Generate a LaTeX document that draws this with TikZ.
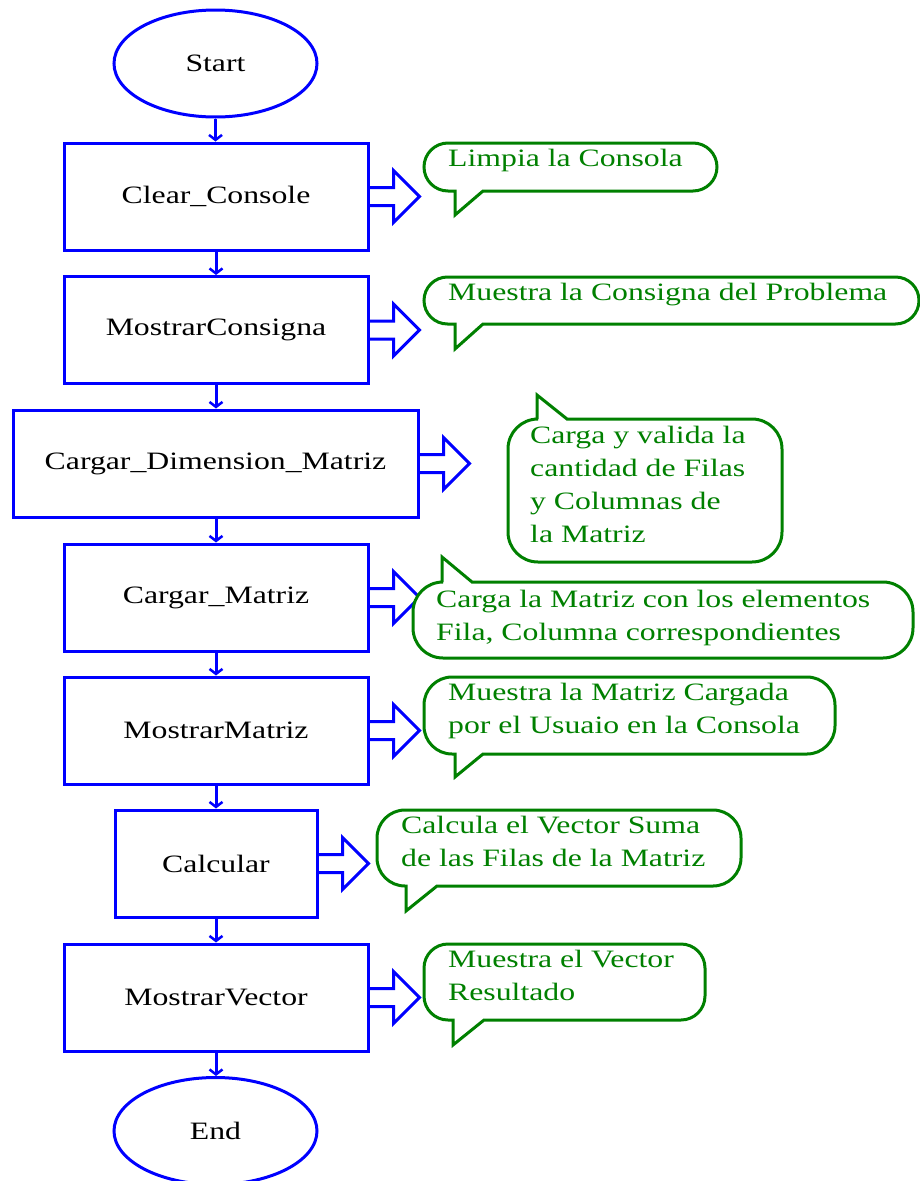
\documentclass[tikz,border=0pt]{standalone}
\usepackage{fontspec}
\setmainfont{Liberation Serif}[FakeStretch=1.27]
\usetikzlibrary{arrows.meta,shapes.geometric}

\definecolor{flowblue}{RGB}{0,0,255}
\definecolor{notegreen}{RGB}{0,128,0}

% Speech-bubble outline: left, right, top, bottom, radius, tail base x1, x2, tail tip y
% (all in px, y measured downwards)
\newcommand{\bubbleDown}[8]{%
  \draw[bubble] (#1+#5,-#3) -- (#2-#5,-#3)
    arc[start angle=90,end angle=0,radius=#5] -- (#2,-#4+#5)
    arc[start angle=0,end angle=-90,radius=#5] -- (#7,-#4) -- (#6,-#8) -- (#6,-#4)
    -- (#1+#5,-#4) arc[start angle=270,end angle=180,radius=#5] -- (#1,-#3-#5)
    arc[start angle=180,end angle=90,radius=#5] -- cycle;}
\newcommand{\bubbleUp}[8]{%
  \draw[bubble] (#1+#5,-#3) -- (#6,-#3) -- (#6,-#8) -- (#7,-#3) -- (#2-#5,-#3)
    arc[start angle=90,end angle=0,radius=#5] -- (#2,-#4+#5)
    arc[start angle=0,end angle=-90,radius=#5]
    -- (#1+#5,-#4) arc[start angle=270,end angle=180,radius=#5] -- (#1,-#3-#5)
    arc[start angle=180,end angle=90,radius=#5] -- cycle;}

\begin{document}
\begin{tikzpicture}[x=1pt,y=1pt,
  every node/.style={font=\fontsize{25}{33}\selectfont},
  terminal/.style={ellipse,draw=flowblue,line width=3pt,minimum width=203pt,minimum height=107pt,inner sep=0pt},
  procbox/.style={rectangle,draw=flowblue,line width=3pt,minimum height=107pt,inner sep=0pt},
  flow/.style={draw=flowblue,line width=3pt,-{Straight Barb[length=5pt,width=13pt,line width=2.5pt]}},
  blockarrow/.style={draw=flowblue,line width=3pt,line join=miter},
  bubble/.style={draw=notegreen,fill=white,line width=3pt,line join=miter},
  note/.style={text=notegreen,anchor=base west,align=left,inner sep=0pt}]

\useasboundingbox (0,0) rectangle (920,-1181);

% main flow
\node[terminal] (start) at (215.5,-63.5) {Start};
\node[procbox,minimum width=304pt] (clear) at (216,-196.5) {Clear\_Console};
\node[procbox,minimum width=304pt] (consigna) at (216,-330) {MostrarConsigna};
\node[procbox,minimum width=405pt] (dimension) at (215.5,-463.5) {Cargar\_Dimension\_Matriz};
\node[procbox,minimum width=304pt] (cargar) at (216,-597.5) {Cargar\_Matriz};
\node[procbox,minimum width=304pt] (mostrarm) at (216,-730.5) {MostrarMatriz};
\node[procbox,minimum width=202pt] (calcular) at (216,-863.5) {Calcular};
\node[procbox,minimum width=304pt] (mostrarv) at (216,-997.5) {MostrarVector};
\node[terminal] (end) at (215.5,-1131) {End};

\draw[flow] (start) -- (start |- clear.north);
\draw[flow] (clear) -- (clear |- consigna.north);
\draw[flow] (consigna) -- (consigna |- dimension.north);
\draw[flow] (dimension.south -| cargar) -- (cargar.north);
\draw[flow] (cargar) -- (cargar.north |- mostrarm.north);
\draw[flow] (mostrarm) -- (mostrarm |- calcular.north);
\draw[flow] (calcular) -- (calcular |- mostrarv.north);
\draw[flow] (mostrarv) -- (mostrarv |- end.north);

% block arrows pointing to the notes
\foreach \b in {clear,consigna,dimension,cargar,mostrarm,calcular,mostrarv}{
  \draw[blockarrow] (\b.east) ++(0,9) -- ++(24,0) -- ++(0,17) -- ++(26,-26)
    -- ++(-26,-26) -- ++(0,17) -- ++(-24,0);
}

% notes (each text node is anchored at the baseline of its last line)
\bubbleDown{424}{717}{143}{191}{24}{455}{483}{215}
\node[note] (n1) at (448,-166) {Limpia la Consola};

\bubbleDown{424}{919}{277}{324}{23.5}{455}{483}{349}
\node[note] (n2) at (448,-300) {Muestra la Consigna del Problema};

\bubbleUp{508}{782}{419}{562}{30}{537}{567}{395}
\node[note] (n3) at (530,-542) {Carga y valida la\\cantidad de Filas\\y Columnas de\\la Matriz};

\bubbleUp{413}{913}{582}{658}{30}{442}{472}{557}
\node[note] (n4) at (436,-640) {Carga la Matriz con los elementos\\Fila, Columna correspondientes};

\bubbleDown{424}{835}{677}{754}{28}{455}{483}{777}
\node[note] (n5) at (448,-733) {Muestra la Matriz Cargada\\por el Usuaio en la Consola};

\bubbleDown{377}{741}{810}{886}{28}{406}{437}{911}
\node[note] (n6) at (401,-866) {Calcula el Vector Suma\\de las Filas de la Matriz};

\bubbleDown{424}{705}{944}{1020}{24}{453}{484}{1045}
\node[note] (n7) at (448,-1000) {Muestra el Vector\\Resultado};

\end{tikzpicture}
\end{document}
